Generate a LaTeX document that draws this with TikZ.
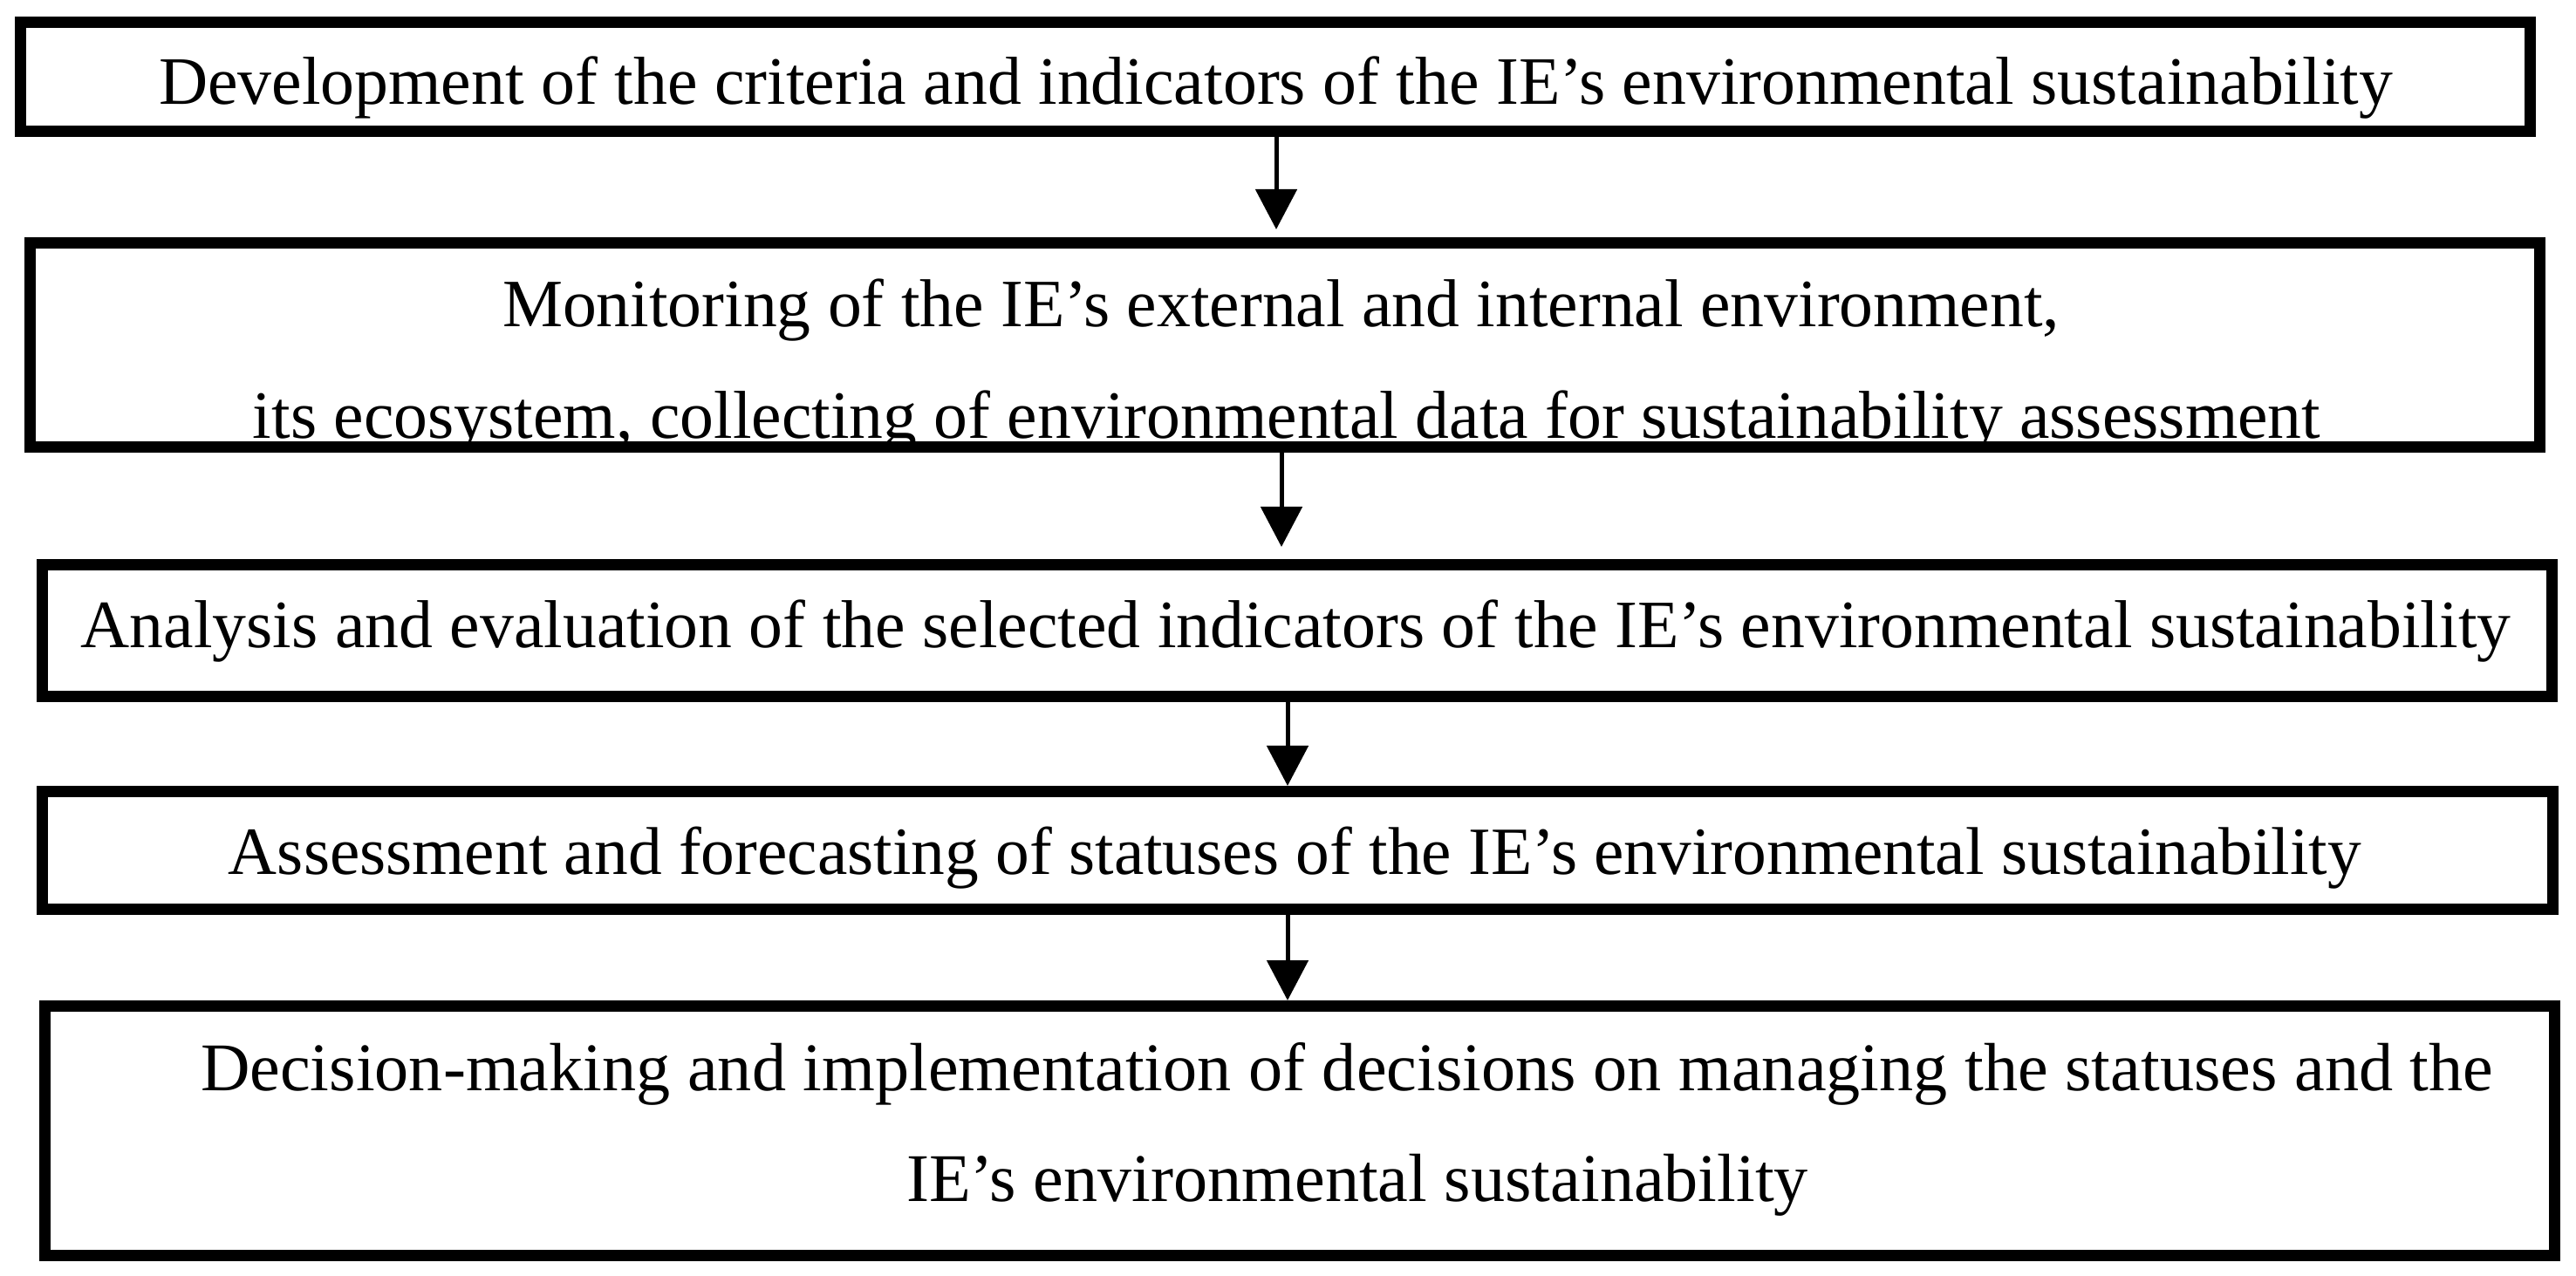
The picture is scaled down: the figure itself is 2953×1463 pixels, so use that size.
\documentclass[tikz,border=0pt]{standalone}
\usepackage{fontspec}
\setmainfont{Liberation Serif}
\usetikzlibrary{arrows.meta}
\newcommand{\fitw}[2]{\resizebox{#1}{!}{\fontsize{19}{23}\selectfont #2}}
\newlength\lenfive
\begin{document}
\settowidth\lenfive{\fontsize{19}{23}\selectfont Decision-making and implementation of decisions on managing the statuses and the}%
\pgfmathsetmacro\sfive{657/\lenfive}%
\begin{tikzpicture}[x=0.25pt,y=-0.25pt,
  box/.style={draw=black,line width=3.25pt,inner sep=0pt,rectangle},
  txt/.style={anchor=base,inner sep=0pt,text=black},
  flow/.style={draw=black,line width=1.25pt,-{Triangle[length=11.5pt,width=11.75pt]}}]
\useasboundingbox[fill=white] (0,0) rectangle (2953,1463);
% texts
\node[txt] (t1)  at (1462.5,120) {\fitw{640.25pt}{Development of the criteria and indicators of the IE’s environmental sustainability}};
\node[txt] (t2a) at (1468.5,375) {\fitw{446.25pt}{Monitoring of the IE’s external and internal environment,}};
\node[txt] (t2b) at (1475,503)   {\fitw{592.5pt}{its ecosystem, collecting of environmental data for sustainability assessment}};
\node[txt] (t3)  at (1485.5,743) {\fitw{696.25pt}{Analysis and evaluation of the selected indicators of the IE’s environmental sustainability}};
\node[txt] (t4)  at (1484.5,1003){\fitw{611.25pt}{Assessment and forecasting of statuses of the IE’s environmental sustainability}};
\node[txt] (t5a) at (1544,1250)  {\scalebox{\sfive}{\fontsize{19}{23}\selectfont Decision-making and implementation of decisions on managing the statuses and the}};
\node[txt] (t5b) at (1556,1377)  {\scalebox{\sfive}{\fontsize{19}{23}\selectfont IE’s environmental sustainability}};
% boxes
\node[box,minimum width=719.25pt,minimum height=31.25pt] (b1) at (1462,88) {};
\node[box,minimum width=719.25pt,minimum height=58.5pt]  (b2) at (1473,395.5) {};
\node[box,minimum width=719.25pt,minimum height=37.75pt] (b3) at (1487,723) {};
\node[box,minimum width=719.5pt,minimum height=33.75pt]  (b4) at (1487.5,975) {};
\node[box,minimum width=719.25pt,minimum height=71.5pt]  (b5) at (1490,1296.5) {};
% arrows
\coordinate (a1s) at ([xshift=0.25pt]b1.south);
\coordinate (a1e) at (a1s |- b2.north);
\coordinate (a2s) at ([xshift=-1pt]b2.south);
\coordinate (a2e) at (a2s |- b3.north);
\coordinate (a3s) at ([xshift=-2.75pt]b3.south);
\coordinate (a3e) at (a3s |- b4.north);
\coordinate (a4s) at ([xshift=-2.875pt]b4.south);
\coordinate (a4e) at (a4s |- b5.north);
\draw[flow,shorten >=2.25pt] (a1s) -- (a1e);
\draw[flow,shorten >=3.5pt] (a2s) -- (a2e);
\draw[flow] (a3s) -- (a3e);
\draw[flow] (a4s) -- (a4e);
\end{tikzpicture}
\end{document}
